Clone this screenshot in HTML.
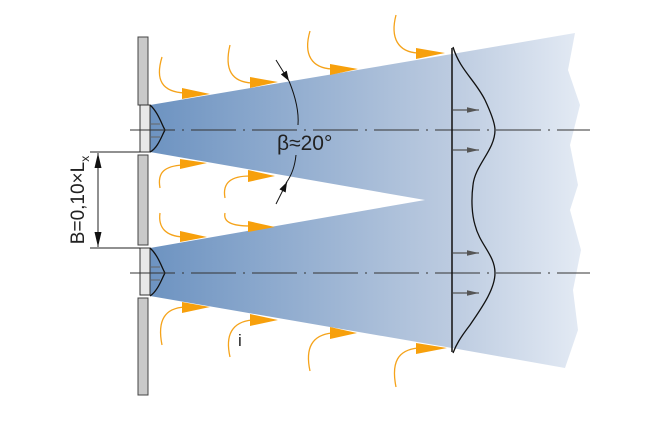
<!DOCTYPE html>
<html><head><meta charset="utf-8"><style>
html,body{margin:0;padding:0;background:#fff;width:660px;height:428px;overflow:hidden}
svg{display:block}
text{font-family:"Liberation Sans",sans-serif;fill:#222}
</style></head><body>
<svg width="660" height="428" viewBox="0 0 660 428" xmlns="http://www.w3.org/2000/svg">
<defs>
<linearGradient id="g" x1="150" y1="0" x2="580" y2="0" gradientUnits="userSpaceOnUse">
<stop offset="0" stop-color="#6d93c1"/>
<stop offset="0.7" stop-color="#bccbe0"/>
<stop offset="1" stop-color="#e3eaf4"/>
</linearGradient>
<marker id="ah" viewBox="0 0 10 10" refX="10" refY="5" markerWidth="10" markerHeight="7" orient="auto" markerUnits="userSpaceOnUse" preserveAspectRatio="none"><path d="M0,0L10,5L0,10z" fill="#111"/></marker>
<marker id="dh" viewBox="0 0 10 10" refX="10" refY="5" markerWidth="15" markerHeight="7" orient="auto-start-reverse" markerUnits="userSpaceOnUse" preserveAspectRatio="none"><path d="M0,0L10,5L0,10z" fill="#111"/></marker>
<marker id="ga" viewBox="0 0 10 10" refX="10" refY="5" markerWidth="12" markerHeight="7" orient="auto" markerUnits="userSpaceOnUse" preserveAspectRatio="none"><path d="M0,1L10,5L0,9z" fill="#555"/></marker>
</defs>
<path d="M150,105 L452,54 L575,33 L568,70 L580,105 L570,145 L578,185 L570,210 L581,250 L573,290 L578,330 L565,368 L452,348 L150,296 L150,248 L425,200 L150,152 Z" fill="url(#g)"/>
<rect x="138" y="37" width="10" height="68" fill="#c9c9c9" stroke="#444" stroke-width="1"/>
<rect x="138" y="155" width="10" height="90" fill="#c9c9c9" stroke="#444" stroke-width="1"/>
<rect x="138" y="298" width="10" height="97" fill="#c9c9c9" stroke="#444" stroke-width="1"/>
<rect x="140" y="105" width="10" height="47" fill="#e8e8e8" stroke="#333" stroke-width="1"/>
<rect x="140" y="248" width="10" height="47" fill="#e8e8e8" stroke="#333" stroke-width="1"/>
<path d="M150,105 C158,112 162,125 165,130 C162,135 158,148 150,152" fill="none" stroke="#111" stroke-width="1.3"/>
<path d="M150,248 C158,255 162,268 165,273 C162,278 158,291 150,296" fill="none" stroke="#111" stroke-width="1.3"/>
<g stroke="#666" stroke-width="1"><line x1="151" y1="124" x2="160" y2="124"/><line x1="151" y1="137" x2="160" y2="137"/><line x1="151" y1="267" x2="160" y2="267"/><line x1="151" y1="280" x2="160" y2="280"/></g>
<g stroke="#333" stroke-width="1" stroke-dasharray="45,7,2,7"><line x1="130" y1="130" x2="590" y2="130"/><line x1="130" y1="273" x2="590" y2="273"/></g>
<g stroke="#222" stroke-width="1"><line x1="90" y1="152" x2="140" y2="152"/><line x1="90" y1="248" x2="140" y2="248"/><line x1="98" y1="153" x2="98" y2="247" marker-start="url(#dh)" marker-end="url(#dh)"/></g>
<text transform="translate(84,200) rotate(-90)" font-size="19" text-anchor="middle">B=0,10×L<tspan font-size="12" dy="5">x</tspan></text>
<line x1="452" y1="48" x2="452" y2="352" stroke="#111" stroke-width="1.5"/>
<path d="M453,47 C460,70 475,80 485,100 C492,115 495,125 495,130 C495,150 475,165 473,185 C471,200 472,215 475,225 C480,245 495,255 495,273 C495,290 480,310 470,325 C460,338 456,345 453,353" fill="none" stroke="#111" stroke-width="1.3"/>
<g stroke="#555" stroke-width="1.2"><line x1="453" y1="110" x2="479" y2="110" marker-end="url(#ga)"/><line x1="453" y1="150" x2="479" y2="150" marker-end="url(#ga)"/><line x1="453" y1="253" x2="479" y2="253" marker-end="url(#ga)"/><line x1="453" y1="293" x2="479" y2="293" marker-end="url(#ga)"/></g>
<line x1="276" y1="60" x2="289" y2="81" stroke="#111" marker-end="url(#ah)"/>
<path d="M289,81 C296,98 299,112 298,125" fill="none" stroke="#111"/>
<path d="M296,155 C295,165 292,175 286,183" fill="none" stroke="#111"/>
<line x1="276" y1="204" x2="287" y2="182" stroke="#111" marker-end="url(#ah)"/>
<text x="277" y="150" font-size="21">β≈20°</text>
<text x="238" y="346" font-size="17">i</text>
<g fill="none" stroke="#f5a31a" stroke-width="1.3">
<path d="M162,57 C155,80 162,92 185,93"/>
<path d="M230,45 C224,70 232,82 252,83"/>
<path d="M310,31 C303,55 312,68 332,69"/>
<path d="M396,15 C390,38 398,52 418,53"/>
<path d="M162,345 C157,320 165,308 185,307"/>
<path d="M230,357 C225,335 232,322 252,320"/>
<path d="M310,371 C305,348 312,335 332,333"/>
<path d="M396,387 C391,362 398,350 418,348"/>
<path d="M160,188 C157,172 165,166 183,165"/>
<path d="M160,213 C158,228 166,236 183,237"/>
<path d="M225,198 C222,182 232,176 250,176"/>
<path d="M225,213 C223,222 232,226 250,226"/>
</g>
<g fill="#f7a00c">
<path d="M182,88L210,94L182,99z"/>
<path d="M250,77L278,82L250,88z"/>
<path d="M330,64L358,69L330,75z"/>
<path d="M416,48L445,53L416,59z"/>
<path d="M182,302L210,307L182,313z"/>
<path d="M250,314L278,320L250,326z"/>
<path d="M330,327L357,333L330,339z"/>
<path d="M416,343L447,348L416,354z"/>
<path d="M180,159L207,163L180,169z"/>
<path d="M180,231L207,237L180,242z"/>
<path d="M248,170L275,176L248,182z"/>
<path d="M248,221L275,227L248,232z"/>
</g>
</svg>
</body></html>
